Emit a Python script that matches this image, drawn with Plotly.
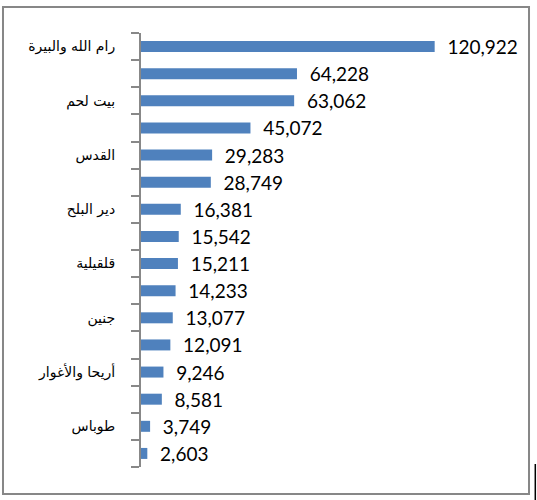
import plotly.graph_objects as go

# Governorates (only every other one is labelled in the original chart)
governorates = ["رام الله والبيرة", "نابلس", "بيت لحم", "الخليل", "القدس", "طولكرم",
                "دير البلح", "غزة", "قلقيلية", "سلفيت", "جنين", "خانيونس",
                "أريحا والأغوار", "رفح", "طوباس", "شمال غزة"]
shown_labels = ["رام الله والبيرة", "", "بيت لحم", "", "القدس", "",
                "دير البلح", "", "قلقيلية", "", "جنين", "",
                "أريحا والأغوار", "", "طوباس", ""]
values = [120922, 64228, 63062, 45072, 29283, 28749, 16381, 15542,
          15211, 14233, 13077, 12091, 9246, 8581, 3749, 2603]

fig = go.Figure(go.Bar(
    x=values, y=governorates, orientation="h",
    width=0.405,
    marker=dict(color="#4F81BD", line=dict(width=0)),
    text=["\u00a0\u00a0" + f"{v:,}" for v in values],
    textposition="outside", cliponaxis=False, constraintext="none",
    textfont=dict(family="Lato", size=19, color="black"),
    hoverinfo="skip",
))

fig.update_layout(
    width=537, height=500,
    margin=dict(l=141, r=56, t=33, b=33),
    paper_bgcolor="white", plot_bgcolor="white",
    showlegend=False,
    xaxis=dict(range=[0, 140000], visible=False),
    yaxis=dict(
        type="category", categoryorder="array", categoryarray=governorates,
        autorange="reversed", automargin=False,
        tickmode="array", tickvals=governorates, ticktext=shown_labels,
        tickson="boundaries", ticks="outside", ticklen=8, tickwidth=2,
        tickcolor="#888888", showline=True, linecolor="#888888", linewidth=2,
        showgrid=False, zeroline=False,
        tickfont=dict(family="DejaVu Sans", size=14, color="black"),
        ticklabelstandoff=21,
    ),
    # outer chart frame
    shapes=[
        dict(type="rect", xref="paper", yref="paper",
             x0=-0.4059, x1=1.1412, y0=-0.0622, y1=1.0599,
             line=dict(color="#878787", width=2), fillcolor="rgba(0,0,0,0)"),
        dict(type="line", xref="paper", yref="paper",
             x0=1.1597, x1=1.1597, y0=-0.0760, y1=0.0069,
             line=dict(color="black", width=1.5)),
    ],
)

# page body margin off so the 537x500 figure fills the window
fig.write_html("out.html", config={"displayModeBar": False},
               post_script="document.body.style.margin='0';")
